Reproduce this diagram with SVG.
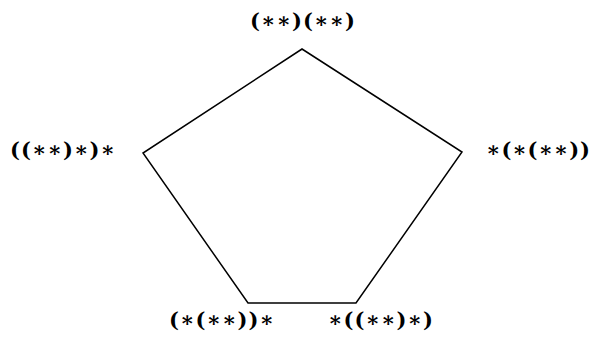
<svg xmlns="http://www.w3.org/2000/svg" width="593" height="343" viewBox="0 0 593 343">
<style>
.lbl{font-family:"DejaVu Serif","Liberation Serif",serif;font-size:21px;font-weight:bold;fill:#000}
.edge{fill:none;stroke:#000;stroke-width:1.5;stroke-linejoin:miter}
</style>
<rect width="593" height="343" fill="#fff"/>
<g id="connectors">
<polygon class="edge" points="302,49 462,152 356,303 248,303 143,153"/>
</g>
<g id="n_top"><text class="lbl" x="250" y="28" textLength="105" lengthAdjust="spacing">(∗∗)(∗∗)</text></g>
<g id="n_left"><text class="lbl" x="10" y="157" textLength="105" lengthAdjust="spacing">((∗∗)∗)∗</text></g>
<g id="n_right"><text class="lbl" x="486" y="157" textLength="104" lengthAdjust="spacing">∗(∗(∗∗))</text></g>
<g id="n_bl"><text class="lbl" x="169" y="327" textLength="105" lengthAdjust="spacing">(∗(∗∗))∗</text></g>
<g id="n_br"><text class="lbl" x="328" y="327" textLength="105" lengthAdjust="spacing">∗((∗∗)∗)</text></g>
</svg>
